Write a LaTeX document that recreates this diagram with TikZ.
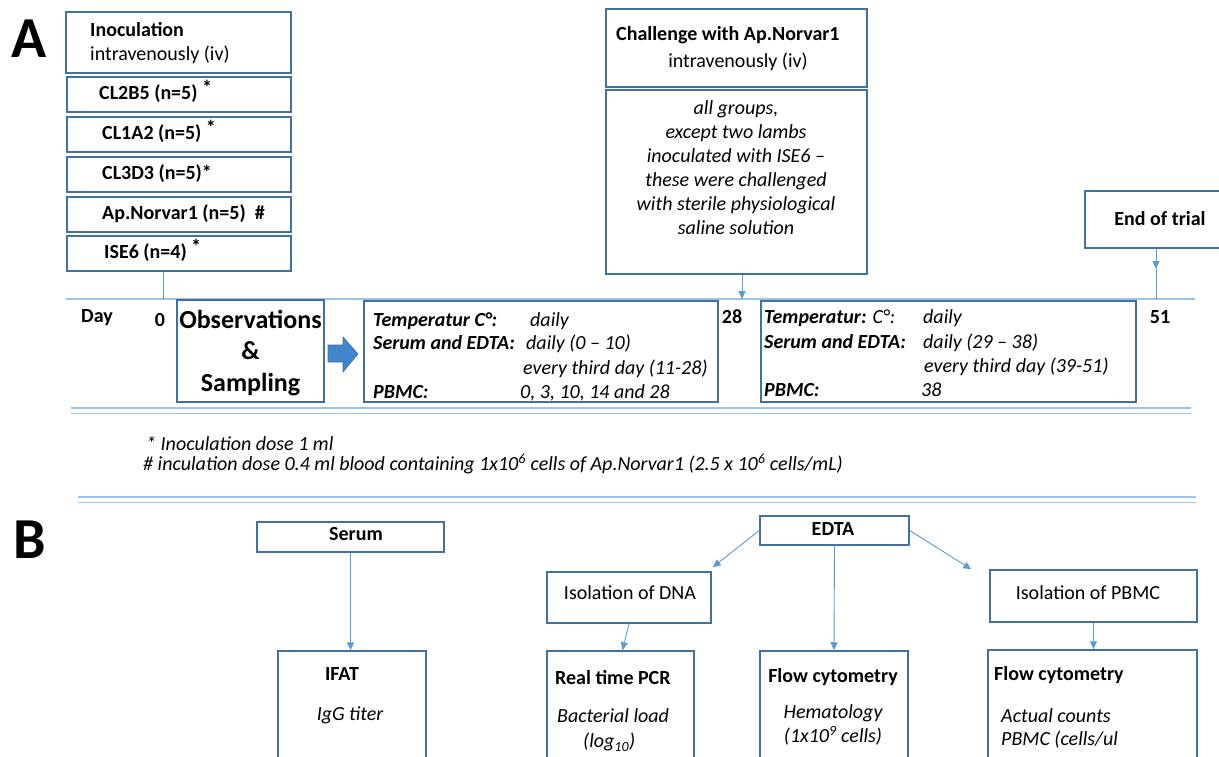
\documentclass[tikz,border=0pt]{standalone}
\usepackage{fontspec}
\setmainfont{Carlito}
\usetikzlibrary{arrows.meta,fit}
\definecolor{boxblue}{HTML}{41719C}
\definecolor{linkblue}{HTML}{5B9BD5}
\definecolor{ruleblue}{HTML}{9DC3E6}
\definecolor{arrowblue}{HTML}{3F86CB}
\newcommand{\mainsize}{\fontsize{20}{24}\selectfont}
\newcommand{\bigsize}{\fontsize{26}{31.5}\selectfont}
\newcommand{\lettersize}{\fontsize{58}{62}\selectfont}
\newcommand{\up}[1]{\raisebox{5pt}{#1}}

\tikzset{
  box/.style={draw=boxblue, line width=1.5pt, inner sep=0pt},
  txt/.style={anchor=mid west, inner sep=0pt, yshift=-3.5pt, font=\mainsize},
  ctxt/.style={anchor=mid, inner sep=0pt, yshift=-3.5pt, font=\mainsize},
  link/.style={draw=linkblue, line width=0.9pt, -{Triangle[length=8pt,width=7pt]}},
  stem/.style={draw=linkblue, line width=0.9pt},
  rule/.style={draw=ruleblue, line width=1.5pt},
}

\begin{document}
\begin{tikzpicture}[x=1pt, y=-1pt]
  \useasboundingbox (0,0) rectangle (1219,757);
  \fill[white] (0,0) rectangle (1219,757);

  % panel A: groups
  \node[anchor=mid, inner sep=0pt, font=\lettersize\bfseries] (lA) at (29,55) {A};
  \node[box, fit={(66,12) (291,73)}] (inoc) {};
  \node[txt, font=\mainsize\bfseries] (inoct) at (90,31) {Inoculation};
  \node[txt] (inocs) at (90,55) {intravenously (iv)};
  \foreach \nm/\y/\x/\lab in {cltwo/77/99/{CL2B5 (n=5) \up{*}},
      clone/117/102/{CL1A2 (n=5) \up{*}},
      clthree/157/102/{CL3D3 (n=5)*},
      norvar/197/102/{Ap.Norvar1 (n=5)\ \ \#},
      ise/236/104/{ISE6 (n=4) \up{*}}}
  {
    \node[box, fit={(67,\y) (291,\y+35)}] (\nm) {};
    \node[txt, font=\mainsize\bfseries] (\nm t) at (\x,\y+17) {\lab};
  }

  % challenge
  \node[box, fit={(606,9) (867,87)}] (chal) {};
  \node[txt, font=\mainsize\bfseries] (chalt) at (616,35) {Challenge with Ap.Norvar1};
  \node[ctxt] (chals) at (738,62) {intravenously (iv)};
  \node[box, fit={(606,90) (867,274)}] (chdet) {};
  \node[align=center, inner sep=0pt, font=\mainsize\itshape] (chdett) at (736,168)
    {all groups,\\ except two lambs\\ inoculated with ISE6 –\\ these were challenged\\ with sterile physiological\\ saline solution};

  \node[box, fit={(1085,191) (1235,248)}] (endt) {};
  \node[ctxt, font=\mainsize\bfseries] (endtt) at (1160,220) {End of trial};

  % time line
  \coordinate (d0) at (163,299);
  \coordinate (d28) at (742,299);
  \coordinate (d51) at (1156,299);
  \coordinate (d51tip) at (1156,269);
  \draw[rule] (66,299) -- (1195,299);
  \draw[stem] (d0 |- ise.south) -- (d0);
  \draw[link] (d28 |- chdet.south) -- (d28);
  \draw[link] (d51 |- endt.south) -- (d51tip);
  \draw[stem] (d51tip) -- (d51);

  \node[ctxt, font=\mainsize\bfseries] (day) at (97,317) {Day};
  \node[ctxt, font=\mainsize\bfseries] (dzero) at (160,321) {0};
  \node[ctxt, font=\mainsize\bfseries] (dtwe) at (732,318) {28};
  \node[ctxt, font=\mainsize\bfseries] (dfif) at (1160,318) {51};

  \node[box, fit={(177,300) (324,402)}] (obs) {};
  \node[align=center, inner sep=0pt, font=\bigsize\bfseries] (obst) at ([yshift=-2pt]obs.center) {Observations\\ \&\\ Sampling};
  \fill[arrowblue, draw=boxblue, line width=0.6pt] (328,345) -- (343,345) -- (343,337) -- (358,354)
    -- (343,372) -- (343,362) -- (328,362) -- cycle;

  % sampling, day 0 - 28
  \node[box, fit={(364,301) (718,402)}] (sampa) {};
  \node[txt, font=\mainsize\bfseries\itshape] (sa1) at (373,321) {Temperatur C°:};
  \node[txt, font=\mainsize\itshape] (sa2) at (530,321) {daily};
  \node[txt, font=\mainsize\bfseries\itshape] (sa3) at (373,344) {Serum and EDTA:};
  \node[txt, font=\mainsize\itshape] (sa4) at (526,344) {daily (0 – 10)};
  \node[txt, font=\mainsize\itshape] (sa5) at (523,369) {every third day (11-28)};
  \node[txt, font=\mainsize\bfseries\itshape] (sa6) at (373,393) {PBMC:};
  \node[txt, font=\mainsize\itshape] (sa7) at (520,393) {0, 3, 10, 14 and 28};

  % sampling, day 28 - 51
  \node[box, fit={(761,301) (1136,402)}] (sampb) {};
  \node[txt, font=\mainsize\itshape] (sb1) at (764,318) {\textbf{Temperatur:} C°:};
  \node[txt, font=\mainsize\itshape] (sb2) at (923,318) {daily};
  \node[txt, font=\mainsize\bfseries\itshape] (sb3) at (764,343) {Serum and EDTA:};
  \node[txt, font=\mainsize\itshape] (sb4) at (923,343) {daily (29 – 38)};
  \node[txt, font=\mainsize\itshape] (sb5) at (924,367) {every third day (39-51)};
  \node[txt, font=\mainsize\bfseries\itshape] (sb6) at (764,391) {PBMC:};
  \node[txt, font=\mainsize\itshape] (sb7) at (921,391) {38};

  \draw[rule, line width=1.2pt] (71,408) -- (1191,408);
  \draw[rule, line width=1pt] (71,413) -- (1191,413);

  \node[txt, font=\mainsize\itshape] (fnone) at (146,445) {* Inoculation dose 1 ml};
  \node[txt, font=\mainsize\itshape] (fntwo) at (143,465) {\# inculation dose 0.4 ml blood containing 1x10\textsuperscript{6} cells of Ap.Norvar1 (2.5 x 10\textsuperscript{6} cells/mL)};

  \draw[rule, line width=1.2pt] (78,497) -- (1196,497);
  \draw[rule, line width=1pt] (78,502) -- (1196,502);

  % panel B: analyses
  \node[anchor=mid, inner sep=0pt, font=\lettersize\bfseries] (lB) at (30,556) {B};

  \node[box, fit={(257,522) (444,552)}] (serum) {};
  \node[ctxt, font=\mainsize\bfseries] (serumt) at (356,535) {Serum};
  \node[box, fit={(278,651) (426,770)}] (ifat) {};
  \node[ctxt, font=\mainsize\bfseries] (ifatt) at (342,675) {IFAT};
  \node[ctxt, font=\mainsize\itshape] (ifats) at (350,715) {IgG titer};

  \node[box, fit={(760,516) (909,545)}] (edta) {};
  \node[ctxt, font=\mainsize\bfseries] (edtat) at (833,530) {EDTA};

  \node[box, fit={(547,572) (711,623)}] (dna) {};
  \node[ctxt] (dnat) at (630,594) {Isolation of DNA};
  \node[box, fit={(547,651) (694,770)}] (pcr) {};
  \node[txt, font=\mainsize\bfseries] (pcrt) at (555,679) {Real time PCR};
  \node[txt, font=\mainsize\itshape] (pcrs) at (557,717) {Bacterial load};
  \node[txt, font=\mainsize\itshape] (pcru) at (583,742) {(log\textsubscript{10})};

  \node[box, fit={(760,651) (908,770)}] (flow) {};
  \node[ctxt, font=\mainsize\bfseries] (flowt) at (833,677) {Flow cytometry};
  \node[ctxt, font=\mainsize\itshape] (flows) at (833,713) {Hematology};
  \node[ctxt, font=\mainsize\itshape] (flowu) at (833,737) {(1x10\textsuperscript{9} cells)};

  \node[box, fit={(990,570) (1197,622)}] (pbmc) {};
  \node[ctxt] (pbmct) at (1088,594) {Isolation of PBMC};
  \node[box, fit={(988,650) (1197,770)}] (flowb) {};
  \node[txt, font=\mainsize\bfseries] (flowbt) at (994,675) {Flow cytometry};
  \node[txt, font=\mainsize\itshape] (flowbs) at (1001,717) {Actual counts};
  \node[txt, font=\mainsize\itshape] (flowbu) at (1001,740) {PBMC (cells/ul};

  \draw[link] (serum.south) -- (serum.south |- ifat.north);
  \draw[link] (edta.west) -- ([shift={(1pt,4pt)}]dna.north east);
  \draw[link] (edta.east) -- ([xshift=-18pt]pbmc.north west);
  \draw[link] (edta.south) -- (flow.north);
  \draw[link] (dna.south) -- ([xshift=2pt]pcr.north);
  \draw[link] (pbmc.south) -- (pbmc.south |- flowb.north);
\end{tikzpicture}
\end{document}
